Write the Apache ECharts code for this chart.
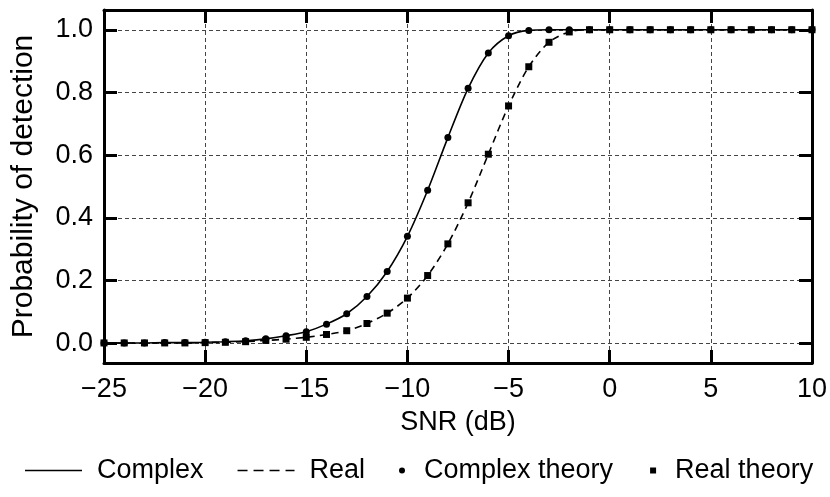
<!DOCTYPE html>
<html>
<head>
<meta charset="utf-8">
<script src="https://cdn.jsdelivr.net/npm/echarts@6/dist/echarts.min.js"></script>
<style>html,body{margin:0;padding:0;background:#fff}#c{width:830px;height:497px}</style>
</head>
<body>
<div id="c"></div>
<script>
var snr = [-25,-24,-23,-22,-21,-20,-19,-18,-17,-16,-15,-14,-13,-12,-11,-10,-9,-8,-7,-6,-5,-4,-3,-2,-1,0,1,2,3,4,5,6,7,8,9,10];
var complexSim = [0.001,0.001,0.001,0.002,0.002,0.003,0.005,0.008,0.014,0.024,0.037,0.061,0.094,0.149,0.229,0.341,0.488,0.656,0.813,0.926,0.981,0.998,1,1,1,1,1,1,1,1,1,1,1,1,1,1];
var realSim = [0.001,0.001,0.001,0.001,0.001,0.002,0.003,0.005,0.009,0.013,0.019,0.028,0.040,0.063,0.096,0.144,0.216,0.317,0.448,0.603,0.757,0.882,0.960,0.993,1,1,1,1,1,1,1,1,1,1,1,1];
var complexTheory = [0.001,0.001,0.001,0.002,0.002,0.003,0.005,0.008,0.014,0.024,0.037,0.061,0.094,0.149,0.229,0.341,0.488,0.656,0.813,0.926,0.981,0.998,1,1,1,1,1,1,1,1,1,1,1,1,1,1];
var realTheory = [0.001,0.001,0.001,0.001,0.001,0.002,0.003,0.005,0.009,0.013,0.019,0.028,0.040,0.063,0.096,0.144,0.216,0.317,0.448,0.603,0.757,0.882,0.960,0.993,1,1,1,1,1,1,1,1,1,1,1,1];
var yTicks = [0, 0.2, 0.4, 0.6, 0.8, 1.0];
var seriesNames = ['Complex', 'Real', 'Complex theory', 'Real theory'];

function pairs(xs, ys){ return xs.map(function(x,i){ return [x, ys[i]]; }); }

var FONT = 'Liberation Sans, Arial, sans-serif';
var FS = 27;
var gridLine = {show:true, lineStyle:{color:'#444', width:1, type:[4,3]}};
var axisLine = {show:true, onZero:false, lineStyle:{color:'#000', width:3}};
var tick = {show:true, inside:true, length:13, lineStyle:{color:'#000', width:3}};
var ICON_SOLID = 'path://M0 0H57V1.6H0Z';
var ICON_DASH = 'path://M0 0H10V1.6H0Z M16 0H26V1.6H16Z M32 0H42V1.6H32Z M48 0H57V1.6H48Z';
var ICON_SQUARE = 'path://M0 0H7V7H0Z';

var chart = echarts.init(document.getElementById('c'), null, {renderer:'canvas'});
chart.setOption({
  animation:false,
  backgroundColor:'#fff',
  textStyle:{fontFamily:FONT, color:'#000'},
  grid:{left:104, right:18, top:10, bottom:134, containLabel:false},
  legend:[
    {left:25, top:457, itemWidth:57, itemHeight:7, itemGap:34, padding:0,
     textStyle:{fontSize:FS, color:'#000', fontFamily:FONT, padding:[0,0,0,10]},
     data:[{name:seriesNames[0], icon:ICON_SOLID}, {name:seriesNames[1], icon:ICON_DASH}]},
    {left:399, top:457, itemWidth:8, itemHeight:6, itemGap:37, padding:0,
     textStyle:{fontSize:FS, color:'#000', fontFamily:FONT, padding:[0,0,0,13]},
     data:[{name:seriesNames[2], icon:'circle'}, {name:seriesNames[3], icon:ICON_SQUARE}]}
  ],
  xAxis:[
    {type:'value', min:-25, max:10, interval:5, position:'bottom',
     axisLine:axisLine, axisTick:tick, splitLine:gridLine,
     axisLabel:{fontSize:FS, color:'#000', margin:13, fontFamily:FONT,
       formatter:function(v){ return String(v).replace('-', '\u2212'); }},
     name:'SNR (dB)', nameLocation:'middle', nameGap:46,
     nameTextStyle:{fontSize:FS, color:'#000', fontFamily:FONT}},
    {type:'value', min:-25, max:10, interval:5, position:'top',
     axisLine:axisLine, axisTick:tick, splitLine:{show:false}, axisLabel:{show:false}}
  ],
  yAxis:[
    {type:'value', min:-0.063, max:1.063, position:'left',
     axisLine:axisLine,
     axisTick:Object.assign({customValues:yTicks}, tick),
     splitLine:gridLine,
     axisLabel:{customValues:yTicks, fontSize:FS, color:'#000', margin:11, fontFamily:FONT,
       formatter:function(v){ return v.toFixed(1); }},
     name:'Probability of detection', nameLocation:'middle', nameGap:65,
     nameTextStyle:{fontSize:30, color:'#000', fontFamily:FONT}},
    {type:'value', min:-0.063, max:1.063, position:'right',
     axisLine:axisLine,
     axisTick:Object.assign({customValues:yTicks}, tick),
     splitLine:{show:false}, axisLabel:{show:false}}
  ],
  series:[
    {name:seriesNames[0], type:'line', data:pairs(snr, complexSim), symbol:'none',
     smooth:0.3, lineStyle:{color:'#000', width:1.6, type:'solid'}, itemStyle:{color:'#000'}, z:2},
    {name:seriesNames[1], type:'line', data:pairs(snr, realSim), symbol:'none',
     smooth:0.3, lineStyle:{color:'#000', width:1.6, type:[7,5]}, itemStyle:{color:'#000'}, z:2},
    {name:seriesNames[2], type:'scatter', data:pairs(snr, complexTheory), symbol:'circle', symbolSize:7,
     itemStyle:{color:'#000', opacity:1}, z:3},
    {name:seriesNames[3], type:'scatter', data:pairs(snr, realTheory), symbol:'rect', symbolSize:7,
     itemStyle:{color:'#000', opacity:1}, z:3}
  ]
});
</script>
</body>
</html>
